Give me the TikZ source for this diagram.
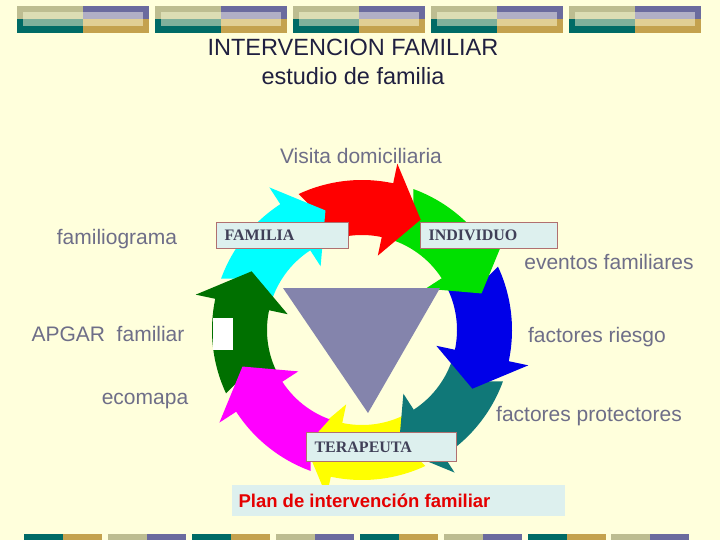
\documentclass[tikz,border=0pt]{standalone}
\usepackage{fontspec}
\setmainfont{Liberation Sans}
\newfontfamily\serifb{Liberation Serif}
\begin{document}
\begin{tikzpicture}[x=1pt,y=-1pt,
  lbl/.style={font=\fontsize{21}{23}\selectfont, text=txtc},
  box/.style={fill=boxc, draw=boxd, line width=0.8pt, inner sep=0pt},
  boxt/.style={font=\serifb\bfseries\fontsize{16}{18}\selectfont, text=boxt}]
\definecolor{bg}{HTML}{FFFFDC}
\definecolor{txtc}{HTML}{6E6E88}
\definecolor{boxc}{HTML}{DDF0EE}
\definecolor{boxd}{HTML}{B07070}
\definecolor{boxt}{HTML}{404058}
\definecolor{olv}{HTML}{BDBD91}\definecolor{olvl}{HTML}{DCDDB4}
\definecolor{pur}{HTML}{6B6B9E}\definecolor{purl}{HTML}{B1AFC5}
\definecolor{tea}{HTML}{006B66}\definecolor{teal2}{HTML}{7FB09B}
\definecolor{gld}{HTML}{C4A24E}\definecolor{gldl}{HTML}{E1CF94}
\definecolor{tri}{HTML}{8484AC}
\definecolor{dteal}{HTML}{107878}
\definecolor{dgreen}{HTML}{007000}
\definecolor{grn}{HTML}{00E000}
\definecolor{cya}{HTML}{00FFFF}
\definecolor{mag}{HTML}{FF00FF}
\definecolor{yel}{HTML}{FFFF00}
\definecolor{blu}{HTML}{0000E8}
\definecolor{rd}{HTML}{FF0000}
\fill[bg] (0,0) rectangle (720,540);
% top bars
\foreach \x in {17,155,293,431,569}{
  \fill[olv] (\x,6) rectangle ++(66,13);
  \fill[pur] (\x+66,6) rectangle ++(66,13);
  \fill[tea] (\x,19) rectangle ++(66,14);
  \fill[gld] (\x+66,19) rectangle ++(66,14);
  \fill[olvl] (\x+6,12) rectangle ++(60,7);
  \fill[purl] (\x+66,12) rectangle ++(60,7);
  \fill[teal2] (\x+6,19) rectangle ++(60,7);
  \fill[gldl] (\x+66,19) rectangle ++(60,7);
}
% bottom bars
\foreach \x/\a/\b in {24/tea/gld,108/olv/pur,192/tea/gld,276/olv/pur,360/tea/gld,444/olv/pur,528/tea/gld,611/olv/pur}{
  \fill[\a] (\x,534) rectangle ++(39,6);
  \fill[\b] (\x+39,534) rectangle ++(39,6);
}
% title
\node[font=\fontsize{23.5}{25}\selectfont, text={rgb,255:red,32;green,32;blue,64}] (t1) at (353,47) {INTERVENCION FAMILIAR};
\node[font=\fontsize{23.5}{25}\selectfont, text={rgb,255:red,32;green,32;blue,64}] (t2) at (353,76) {estudio de familia};
% ring arrows
\begin{scope}[shift={(362,330)}, yscale=-1]
\foreach \s/\c in {-65/yel,-20/dteal,25/blu,70/grn,115/rd,160/cya,-155/dgreen,-110/mag}{
  \fill[\c] (\s:150) arc[start angle=\s, end angle=\s-37, radius=150]
     -- (\s-37:170) -- (\s-53:125) -- (\s-37:76)
     -- (\s-37:95) arc[start angle=\s-37, end angle=\s, radius=95]
     -- (\s-5:122) -- cycle;
}
\end{scope}
\fill[white] (213,318) rectangle (233,350);
\fill[tri] (283,288) -- (440,288) -- (368,413) -- cycle;
% labels
\node[lbl] (vis) at (361,156) {Visita domiciliaria};
\node[lbl] (fgr) at (117,239) {familiograma};
\node[lbl] (evf) at (609,262) {eventos familiares};
\node[lbl] (apg) at (108,334) {APGAR\ \ familiar};
\node[lbl] (fri) at (597,337) {factores riesgo};
\node[lbl] (eco) at (145,401) {ecomapa};
\node[lbl] (fpr) at (589,416) {factores protectores};
\node[box, minimum width=132, minimum height=26, anchor=north west] (fam) at (216,222) {};
\node[boxt, anchor=west] at ([xshift=5]fam.west) {FAMILIA};
\node[box, minimum width=137, minimum height=26, anchor=north west] (ind) at (420,222) {};
\node[boxt, anchor=west] at ([xshift=5]ind.west) {INDIVIDUO};
\node[box, minimum width=150, minimum height=29, anchor=north west] (ter) at (306,432) {};
\node[boxt, anchor=west] at ([xshift=5]ter.west) {TERAPEUTA};
\node[fill=boxc, minimum width=333, minimum height=31, anchor=north west, inner sep=0pt] (plan) at (232,485) {};
\node[anchor=west, font=\bfseries\fontsize{18.5}{20}\selectfont, text=red!90!black] at ([xshift=3]plan.west) {Plan de intervención familiar};
\end{tikzpicture}
\end{document}
